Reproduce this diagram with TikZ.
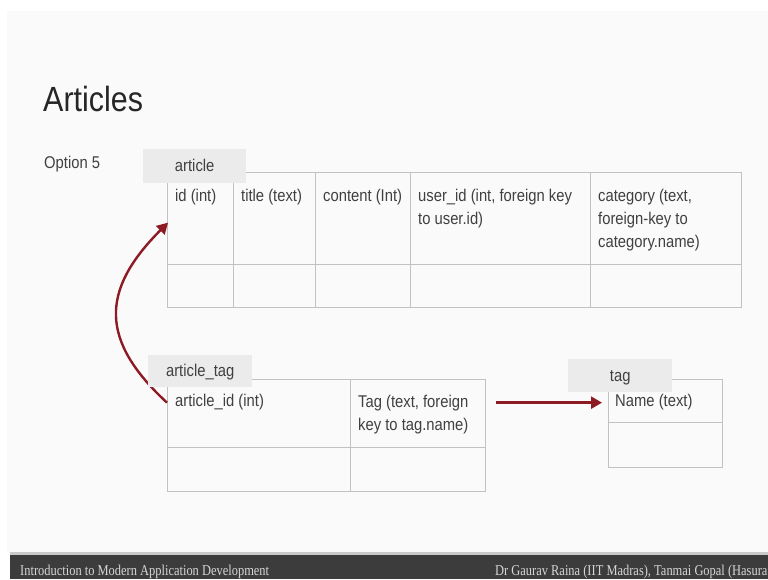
\documentclass[tikz,border=0pt]{standalone}
\usepackage{fontspec}
\setmainfont{Liberation Sans}[FakeStretch=0.87]
\newfontfamily\footfont{Liberation Serif}[FakeStretch=0.83]
\usetikzlibrary{arrows.meta}

\definecolor{slidebg}{HTML}{FAFAFA}
\definecolor{barbg}{HTML}{3C3C3C}
\definecolor{barline}{HTML}{CACACA}
\definecolor{gridgray}{HTML}{C2C2C2}
\definecolor{tabgray}{HTML}{EBEBEB}
\definecolor{fkred}{HTML}{8E1B24}
\definecolor{inkgray}{HTML}{404040}
\definecolor{footgray}{HTML}{D6D6D6}

\newcommand\cellfont{\fontsize{17}{23}\selectfont}

\tikzset{
  cell/.style={draw=gridgray,line width=1.3pt,anchor=north west,inner sep=0pt},
  celltext/.style={anchor=base west,align=left,inner sep=0pt,font=\cellfont,text=inkgray},
  tab/.style={fill=tabgray,anchor=north west,inner sep=0pt,font=\cellfont,text=inkgray,
    text height=12pt,text depth=1pt},
  fk/.style={draw=fkred,line width=2.4pt,-{Triangle[length=11pt,width=12pt]}},
  foot/.style={anchor=base west,inner sep=0pt,text=footgray,font=\footfont\fontsize{15}{18}\selectfont}
}

\begin{document}
\begin{tikzpicture}[x=1pt,y=-1pt]
% slide
\useasboundingbox (0,0) rectangle (768,579);
\fill[white] (0,0) rectangle (768,579);
\fill[slidebg] (7,11) rectangle (768,553);
\fill[barline] (10,552) rectangle (768,555);
\fill[barbg] (10,555) rectangle (768,579);

% heading
\node[anchor=base west,inner sep=0pt,text=black!85,font=\fontsize{35}{40}\selectfont] (title) at (43,111) {Articles};
\node[anchor=base west,inner sep=0pt,text=inkgray,font=\cellfont] (option) at (44,168) {Option 5};

% article
\node[cell,minimum width=66,minimum height=92] (aid) at (167,172) {};
\node[cell,minimum width=82,minimum height=92] (atitle) at (233,172) {};
\node[cell,minimum width=95,minimum height=92] (acontent) at (315,172) {};
\node[cell,minimum width=180,minimum height=92] (auser) at (410,172) {};
\node[cell,minimum width=151,minimum height=92] (acat) at (590,172) {};
\node[cell,minimum width=66,minimum height=43] (aid2) at (167,264) {};
\node[cell,minimum width=82,minimum height=43] (atitle2) at (233,264) {};
\node[cell,minimum width=95,minimum height=43] (acontent2) at (315,264) {};
\node[cell,minimum width=180,minimum height=43] (auser2) at (410,264) {};
\node[cell,minimum width=151,minimum height=43] (acat2) at (590,264) {};
% base of a multi-line node is its last line
\node[celltext] (aidtxt) at (175,201) {id (int)};
\node[celltext] (atitletxt) at (241,201) {title (text)};
\node[celltext] (acontenttxt) at (323,201) {content (Int)};
\node[celltext] (ausertxt) at (418,224) {user\_id (int, foreign key\\to user.id)};
\node[celltext] (acattxt) at (598,247) {category (text,\\foreign-key to\\category.name)};

% article_tag
\node[cell,minimum width=183,minimum height=68] (atid) at (167,379) {};
\node[cell,minimum width=135,minimum height=68] (atfk) at (350,379) {};
\node[cell,minimum width=183,minimum height=44] (atid2) at (167,447) {};
\node[cell,minimum width=135,minimum height=44] (atfk2) at (350,447) {};
\node[celltext] (atidtxt) at (175,406) {article\_id (int)};
\node[celltext] (atfktxt) at (358,430) {Tag (text, foreign\\key to tag.name)};

% tag
\node[cell,minimum width=114,minimum height=43] (tname) at (608,379) {};
\node[cell,minimum width=114,minimum height=45] (tname2) at (608,422) {};
\node[celltext] (tnametxt) at (615,406) {Name (text)};

% foreign keys
\draw[fk] ([yshift=11]atid.west) .. controls +(-67,-62) and +(-68,68) .. ([xshift=1,yshift=-4]aid.west);
\draw[fk] ([xshift=10,yshift=11]atfk.east) -- ([xshift=-6,yshift=-1.5]tname.west);

% name tabs
\node[tab,minimum width=103,minimum height=34] (arttab) at (143,149) {article};
\node[tab,minimum width=104,minimum height=32] (attab) at (148,355) {article\_tag};
\node[tab,minimum width=104,minimum height=33] (tagtab) at (568,359) {tag};

% footer
\node[foot] (course) at (20,575) {Introduction to Modern Application Development};
\node[foot] (authors) at (495,575) {Dr Gaurav Raina (IIT Madras), Tanmai Gopal (Hasura};
\end{tikzpicture}
\end{document}
